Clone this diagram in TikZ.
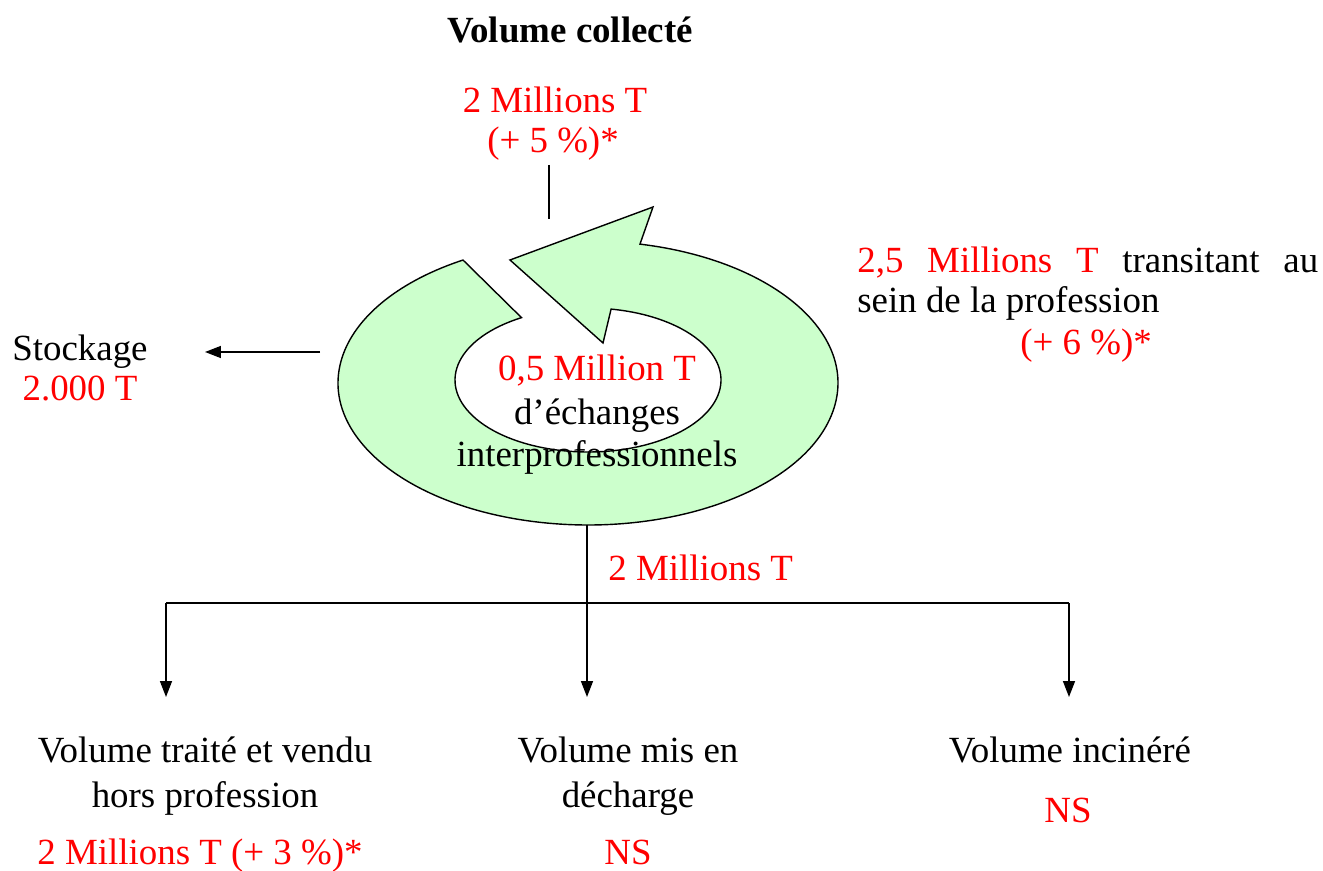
\documentclass[tikz,border=0pt]{standalone}
\usepackage{fontspec}
\setmainfont{Liberation Serif}
\usetikzlibrary{arrows.meta,calc}
\definecolor{ringgreen}{RGB}{204,255,204}
\begin{document}
\begin{tikzpicture}[x=0.02cm,y=0.02cm,
  txt/.style={inner sep=0pt,font=\fontsize{21pt}{25pt}\selectfont,text height=0.7em,text depth=0.2em},
  red txt/.style={txt,text=red},
  conn/.style={line width=0.9pt,draw=black},
  arr/.style={conn,-{Triangle[length=0.32cm,width=0.24cm]}}]
\useasboundingbox (0,0) rectangle (1323,870);
% ring arrow
\path[fill=ringgreen,draw=black,line width=0.8pt,line join=miter]
  ($(588,487)+(78:5cm and 2.84cm)$)
  arc[start angle=78,end angle=-240,x radius=5cm,y radius=2.84cm]
  -- ($(588,490)+(120:2.66cm and 1.44cm)$)
  arc[start angle=120,end angle=440,x radius=2.66cm,y radius=1.44cm]
  -- (603,527) -- (510,610) -- (653,663) -- cycle;
% texts
\node[txt,font=\fontsize{21pt}{25pt}\selectfont\bfseries] (title) at (570,832) {Volume collecté};
\node[red txt] (col1) at (555,762) {2 Millions T};
\node[red txt] (col2) at (553,722) {(+ 5 \%)*};
\node[txt,anchor=west] (stock) at (12,514) {Stockage};
\node[red txt] (stockv) at (80,474) {2.000 T};
\node[red txt] (mid1) at (597,494) {0,5 Million T};
\node[txt] (mid2) at (597,450) {d’échanges};
\node[txt] (mid3) at (597,408) {interprofessionnels};
\node[txt,anchor=west] (r1) at (857,602) {\makebox[9.22cm][s]{\textcolor{red}{2,5 Millions T} transitant au}};
\node[txt,anchor=west] (r2) at (857,562) {sein de la profession};
\node[red txt] (r3) at (1086,520) {(+ 6 \%)*};
\node[red txt,anchor=west] (out) at (608,294) {2 Millions T};
\node[txt] (a1) at (205,112) {Volume traité et vendu};
\node[txt] (a2) at (205,67) {hors profession};
\node[red txt] (a3) at (200,10) {2 Millions T (+ 3 \%)*};
\node[txt] (b1) at (628,112) {Volume mis en};
\node[txt] (b2) at (628,67) {décharge};
\node[red txt] (b3) at (628,10) {NS};
\node[txt] (c1) at (1070,112) {Volume incinéré};
\node[red txt] (c2) at (1068,52) {NS};
% connectors
\coordinate (topA) at (549,705);
\coordinate (topB) at (549,651);
\draw[conn] (topA) -- (topB);
\coordinate (stA) at (320,518);
\coordinate (stB) at (205,518);
\draw[arr] (stA) -- (stB);
\coordinate (dA) at (587,345);
\coordinate (dB) at (587,267);
\coordinate (hL) at (166,267);
\coordinate (hR) at (1069,267);
\coordinate (tL) at (166,173);
\coordinate (tM) at (587,173);
\coordinate (tR) at (1069,173);
\draw[conn] (dA) -- (dB);
\draw[conn] (hL) -- (hR);
\draw[arr] (hL) -- (tL);
\draw[arr] (dB) -- (tM);
\draw[arr] (hR) -- (tR);
\end{tikzpicture}
\end{document}
